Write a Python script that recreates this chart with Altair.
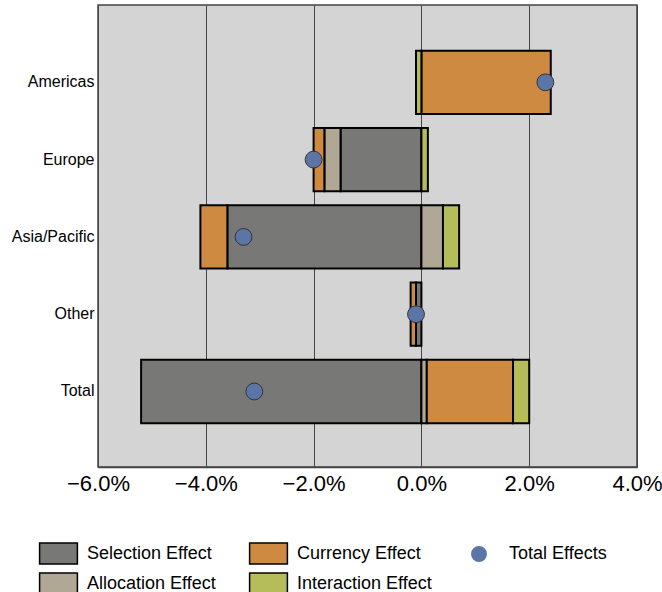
import altair as alt
import pandas as pd

regions = ["Americas", "Europe", "Asia/Pacific", "Other", "Total"]
effects = ["Selection Effect", "Allocation Effect", "Currency Effect", "Interaction Effect"]
effect_colors = ["#787876", "#b0a894", "#cd8a40", "#b4bd5a"]

# attribution effects per region, in percent
selection = [0.0, -1.5, -3.6, -0.1, -5.2]
allocation = [0.0, -0.3, 0.4, 0.0, 0.1]
currency = [2.4, -0.2, -0.5, -0.1, 1.6]
interaction = [-0.1, 0.12, 0.3, 0.0, 0.3]
total_effects = [2.3, -2.0, -3.3, -0.1, -3.1]

series = [selection, allocation, currency, interaction]
rows = []
for k, (name, vals) in enumerate(zip(effects, series)):
    for region, v in zip(regions, vals):
        rows.append({"region": region, "effect": name, "order": k, "value": v / 100})
bars_df = pd.DataFrame(rows)
dots_df = pd.DataFrame({"region": regions, "total": [v / 100 for v in total_effects],
                        "kind": ["Total Effects"] * len(regions)})

font = "Liberation Sans"

x_scale = alt.Scale(domain=[-0.06, 0.04], nice=False, zero=False)
y_scale = alt.Scale(domain=regions, paddingInner=0.181, paddingOuter=0.579, align=0.51)

x_axis = alt.Axis(values=[-0.06, -0.04, -0.02, 0.0, 0.02, 0.04], format=".1%",
                  grid=True, gridColor="#444444", gridWidth=1, gridOpacity=1,
                  ticks=False, domain=True, domainColor="#444444", domainWidth=1.5,
                  labelFontSize=22, labelFont=font, labelColor="#000000",
                  labelPadding=6, title=None, labelFlush=False)
y_axis = alt.Axis(ticks=False, domain=False, labelFontSize=16, labelFont=font,
                  labelColor="#000000", labelPadding=4, title=None, grid=False)

rect_path = "M-1.8,-1L1.8,-1L1.8,1L-1.8,1Z"

bars = alt.Chart(bars_df).transform_filter(
    alt.datum.value != 0
).mark_bar(stroke="#000000", strokeWidth=2, opacity=1).encode(
    x=alt.X("sum(value):Q", scale=x_scale, axis=x_axis, stack="zero"),
    y=alt.Y("region:N", scale=y_scale, axis=y_axis, sort=regions),
    color=alt.Color("effect:N",
                    scale=alt.Scale(domain=effects, range=effect_colors),
                    legend=alt.Legend(orient="none", legendX=-51, legendY=537,
                                      columns=2, title=None, padding=0,
                                      symbolType=rect_path, symbolSize=441,
                                      symbolStrokeColor="#000000", symbolStrokeWidth=1.5,
                                      symbolOpacity=1,
                                      labelFont=font, labelFontSize=18, labelColor="#000000",
                                      labelOffset=17, rowPadding=3, columnPadding=30)),
    order=alt.Order("order:Q", sort="ascending"),
)

dots = alt.Chart(dots_df).mark_point(
    filled=True, fill="#5b76a6", stroke="#333333", strokeWidth=1, size=284, opacity=1
).encode(
    x=alt.X("total:Q", scale=x_scale),
    y=alt.Y("region:N", scale=y_scale, sort=regions),
    shape=alt.Shape("kind:N", scale=alt.Scale(domain=["Total Effects"], range=["circle"]),
                    legend=alt.Legend(orient="none", legendX=372, legendY=540,
                                      title=None, padding=0, symbolSize=254,
                                      symbolFillColor="#5b76a6", symbolStrokeColor="#333333",
                                      symbolStrokeWidth=1, symbolOpacity=1,
                                      labelFont=font, labelFontSize=18, labelColor="#000000",
                                      labelOffset=21)),
)

chart = alt.layer(bars, dots).resolve_scale(color="independent", shape="independent").properties(
    width=539, height=462,
    autosize=alt.AutoSizeParams(type="none"),
    padding={"left": 98, "top": 5, "right": 25, "bottom": 125},
    background="#ffffff",
).configure_view(
    fill="#d4d4d4", stroke="#444444", strokeWidth=1.5
)

chart.save("out.html", embed_options={"renderer": "svg", "actions": False})
